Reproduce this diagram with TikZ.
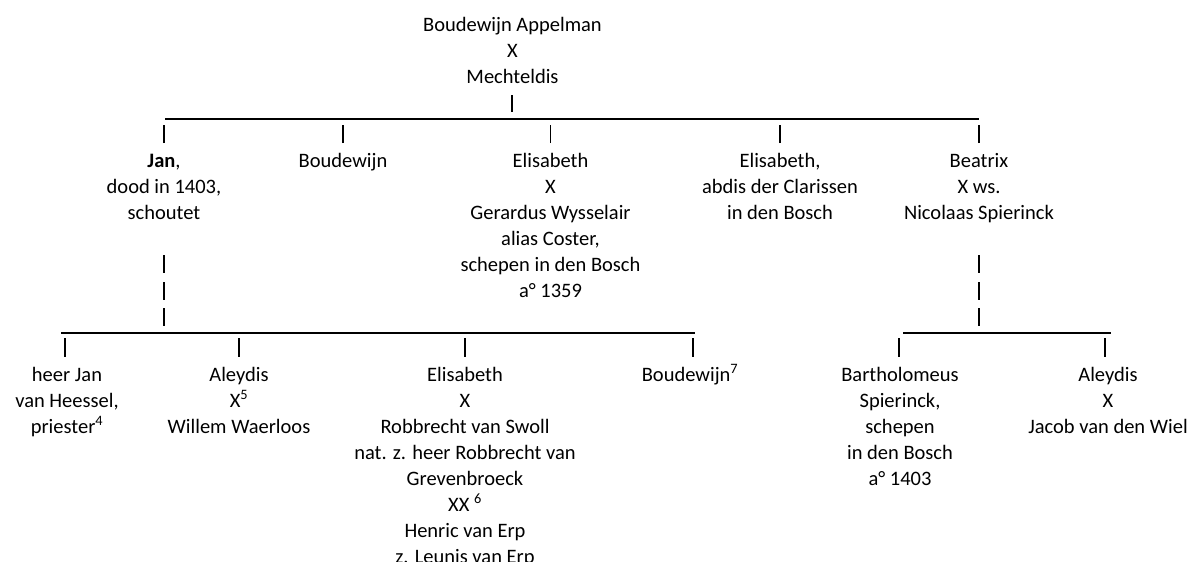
\documentclass[tikz,border=0pt]{standalone}
\usepackage{fontspec}
\setmainfont{Carlito}
\newcommand\fst{\rule{0pt}{18pt}}
\tikzset{
  lbl/.style={anchor=north, inner sep=0pt, align=center, font={\fontsize{20.5pt}{26pt}\selectfont}},
  hline/.style={line width=2pt},
  vbar/.style={line width=1.3pt}
}
\begin{document}
\begin{tikzpicture}[x=1pt,y=-1pt]
\useasboundingbox (0,0) rectangle (1194,562);
\clip (0,0) rectangle (1194,562);
% top couple
\node[lbl] (top) at (512.5,13) {\fst Boudewijn Appelman\\X\\Mechteldis};
% generation 1
\node[lbl] (jan)  at (164,149)   {\fst\textbf{Jan},\\dood in 1403,\\schoutet};
\node[lbl] (boud) at (343,149)   {\fst Boudewijn};
\node[lbl] (elis) at (550.5,149) {\fst Elisabeth\\X\\Gerardus Wysselair\\alias Coster,\\schepen in den Bosch\\a° 1359};
\node[lbl] (elab) at (780,149)   {\fst Elisabeth,\\abdis der Clarissen\\in den Bosch};
\node[lbl] (beat) at (979,149)   {\fst Beatrix\\X ws.\\Nicolaas Spierinck};
% generation 2
\node[lbl] (hj)  at (67,363)   {\fst heer Jan\\van Heessel,\\priester\textsuperscript{4}};
\node[lbl] (al)  at (239,363)  {\fst Aleydis\\X\textsuperscript{5}\\Willem Waerloos};
\node[lbl] (el2) at (465,363)  {\fst Elisabeth\\X\\Robbrecht van Swoll\\nat. z. heer Robbrecht van\\Grevenbroeck\\XX \textsuperscript{6}\\Henric van Erp\\z. Leunis van Erp};
\node[lbl] (bo2) at (690,363)  {\fst Boudewijn\textsuperscript{7}};
\node[lbl] (ba)  at (900,363)  {\fst Bartholomeus\\Spierinck,\\schepen\\in den Bosch\\a° 1403};
\node[lbl] (al2) at (1108,363) {\fst Aleydis\\X\\Jacob van den Wiel};
% horizontal lines
\coordinate (h1a) at (165,119);  \coordinate (h1b) at (979,119);
\coordinate (h2a) at (61,332.5); \coordinate (h2b) at (695,332.5);
\coordinate (h3a) at (903,332.5);\coordinate (h3b) at (1111,332.5);
\draw[hline] (h1a) -- (h1b);
\draw[hline] (h2a) -- (h2b);
\draw[hline] (h3a) -- (h3b);
% bar below top couple
\draw[vbar] (512,95) -- (512,112);
% bars above generation 1
\foreach \n in {jan,boud,elis,elab,beat}
  \draw[vbar] ([yshift=6pt]\n.north) -- ([yshift=24pt]\n.north);
% descending bars under Jan and Beatrix
\foreach \n in {jan,beat}{
  \draw[vbar] ([yshift=-106pt]\n.north) -- ([yshift=-124pt]\n.north);
  \draw[vbar] ([yshift=-133pt]\n.north) -- ([yshift=-151pt]\n.north);
  \draw[vbar] ([yshift=-159pt]\n.north) -- ([yshift=-177pt]\n.north);
}
% bars above generation 2
\draw[vbar] (65,338) -- (65,357);
\draw[vbar] (239,338) -- (239,357);
\draw[vbar] (465,338) -- (465,357);
\draw[vbar] (693,338) -- (693,357);
\draw[vbar] (899,338) -- (899,357);
\draw[vbar] (1105,338) -- (1105,357);
\end{tikzpicture}
\end{document}
